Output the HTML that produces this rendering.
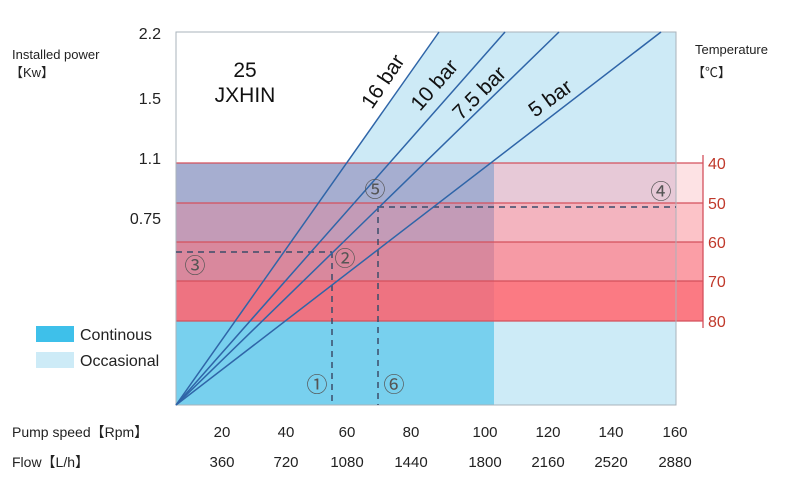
<!DOCTYPE html>
<html><head><meta charset="utf-8"><style>
html,body{margin:0;padding:0;background:#fff;}
svg{display:block;font-family:"Liberation Sans","Noto Sans CJK SC",sans-serif;}
</style></head><body>
<svg width="787" height="500" viewBox="0 0 787 500" xmlns="http://www.w3.org/2000/svg">
<rect width="787" height="500" fill="#fff"/>
<polygon points="439,32 676,32 676,163 347,163" fill="#cdeaf6"/>
<rect x="176" y="321" width="318" height="84" fill="#78d0ee"/>
<rect x="494" y="321" width="182" height="84" fill="#cdebf7"/>
<rect x="176" y="163" width="318" height="40" fill="#a6aed0"/>
<rect x="176" y="203" width="318" height="39" fill="#c39bb7"/>
<rect x="176" y="242" width="318" height="39" fill="#d9889d"/>
<rect x="176" y="281" width="318" height="40" fill="#ee7381"/>
<rect x="494" y="163" width="182" height="40" fill="#e7c9d7"/>
<rect x="494" y="203" width="182" height="39" fill="#f3b4bf"/>
<rect x="494" y="242" width="182" height="39" fill="#f69aa5"/>
<rect x="494" y="281" width="182" height="40" fill="#fb7a83"/>
<rect x="676" y="163" width="27" height="40" fill="#fde2e4"/>
<rect x="676" y="203" width="27" height="39" fill="#fcc3c8"/>
<rect x="676" y="242" width="27" height="39" fill="#fb9ea6"/>
<rect x="676" y="281" width="27" height="40" fill="#fb7a83"/>
<g stroke="#d4505c" stroke-width="1.3">
<line x1="176" y1="163" x2="703" y2="163"/>
<line x1="176" y1="203" x2="703" y2="203"/>
<line x1="176" y1="242" x2="703" y2="242"/>
<line x1="176" y1="281" x2="703" y2="281"/>
<line x1="176" y1="321" x2="703" y2="321"/>
<line x1="703" y1="155" x2="703" y2="328"/>
</g>
<rect x="176" y="32" width="500" height="373" fill="none" stroke="#a9b3bb" stroke-width="1"/>
<g stroke="#3a4c6a" stroke-width="1.5" stroke-dasharray="6,5" fill="none">
<line x1="332" y1="252" x2="332" y2="405"/>
<line x1="378" y1="206" x2="378" y2="405"/>
<line x1="378" y1="207" x2="676" y2="207"/>
<line x1="176" y1="252" x2="332" y2="252"/>
</g>
<g stroke="#2f65a8" stroke-width="1.5">
<line x1="176" y1="405" x2="439" y2="32"/>
<line x1="176" y1="405" x2="505" y2="32"/>
<line x1="176" y1="405" x2="559" y2="32"/>
<line x1="176" y1="405" x2="661" y2="32"/>
</g>
<g font-size="21" fill="#111">
<text transform="translate(372,110) rotate(-56)">16 bar</text>
<text transform="translate(420,112) rotate(-49)">10 bar</text>
<text transform="translate(461,121) rotate(-45)">7.5 bar</text>
<text transform="translate(535,118) rotate(-36)">5 bar</text>
</g>
<text x="245" y="77" font-size="21" text-anchor="middle" fill="#111">25</text>
<text x="245" y="102" font-size="21" text-anchor="middle" fill="#111">JXHIN</text>
<g font-size="21" fill="#555" text-anchor="middle">
<text x="317" y="392">①</text>
<text x="394" y="392">⑥</text>
<text x="345" y="266">②</text>
<text x="195" y="273">③</text>
<text x="375" y="197">⑤</text>
<text x="661" y="199">④</text>
</g>
<text x="12" y="59" font-size="13" fill="#222">Installed power</text>
<text x="10" y="77" font-size="13" fill="#222">【Kw】</text>
<g font-size="16" fill="#222" text-anchor="end">
<text x="161" y="39">2.2</text>
<text x="161" y="104">1.5</text>
<text x="161" y="164">1.1</text>
<text x="161" y="224">0.75</text>
</g>
<text x="695" y="54" font-size="13" fill="#222">Temperature</text>
<text x="692" y="77" font-size="13" fill="#222">【℃】</text>
<g font-size="16" fill="#c0392b">
<text x="708" y="169">40</text>
<text x="708" y="209">50</text>
<text x="708" y="248">60</text>
<text x="708" y="287">70</text>
<text x="708" y="327">80</text>
</g>
<rect x="36" y="326" width="38" height="16" fill="#3ec0ea"/>
<text x="80" y="340" font-size="16" fill="#222">Continous</text>
<rect x="36" y="352" width="38" height="16" fill="#cdebf7"/>
<text x="80" y="366" font-size="16" fill="#222">Occasional</text>
<text x="12" y="437" font-size="14" fill="#222">Pump speed【Rpm】</text>
<text x="12" y="467" font-size="14" fill="#222">Flow【L/h】</text>
<g font-size="15" fill="#222" text-anchor="middle">
<text x="222" y="437">20</text><text x="286" y="437">40</text><text x="347" y="437">60</text><text x="411" y="437">80</text><text x="485" y="437">100</text><text x="548" y="437">120</text><text x="611" y="437">140</text><text x="675" y="437">160</text>
<text x="222" y="467">360</text><text x="286" y="467">720</text><text x="347" y="467">1080</text><text x="411" y="467">1440</text><text x="485" y="467">1800</text><text x="548" y="467">2160</text><text x="611" y="467">2520</text><text x="675" y="467">2880</text>
</g>
</svg>
</body></html>
